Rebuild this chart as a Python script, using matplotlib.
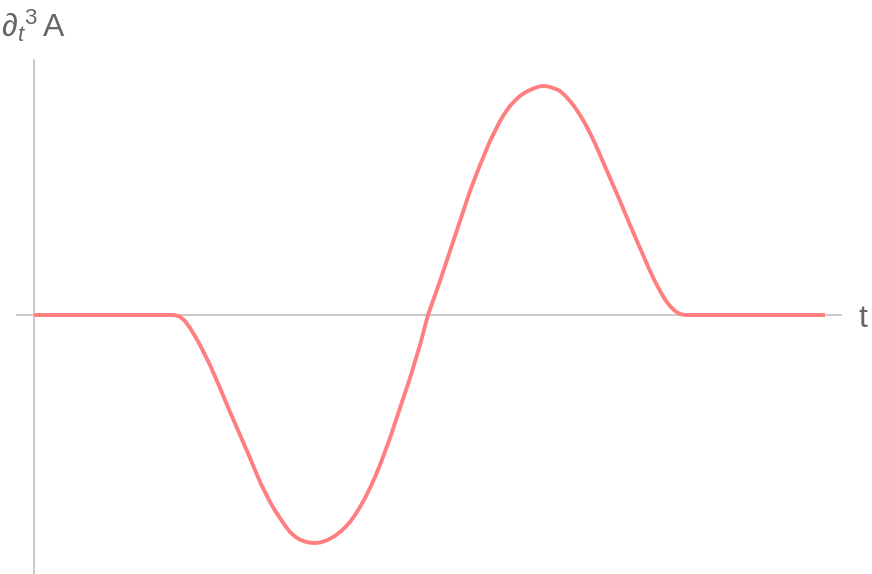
import matplotlib.pyplot as plt
import numpy as np

plt.rcParams['mathtext.fontset'] = 'custom'
plt.rcParams['mathtext.rm'] = 'Liberation Sans'
plt.rcParams['mathtext.it'] = 'Liberation Sans:italic'
plt.rcParams['font.family'] = ['Liberation Sans', 'DejaVu Sans']

# third time derivative of A
t = [0.00, 1.36, 1.41, 1.46, 1.51, 1.56, 1.61, 1.66, 1.76, 1.86,
     1.96, 2.06, 2.16, 2.26, 2.36, 2.41, 2.46, 2.51, 2.56, 2.61,
     2.66, 2.71, 2.76, 2.81, 2.86, 2.91, 2.96, 3.01, 3.06, 3.11,
     3.16, 3.21, 3.26, 3.31, 3.36, 3.41, 3.46, 3.56, 3.66, 3.76,
     3.86, 3.94, 4.06, 4.16, 4.26, 4.36, 4.46, 4.51, 4.56, 4.61,
     4.66, 4.71, 4.76, 4.81, 4.86, 4.91, 4.96, 5.01, 5.06, 5.09,
     5.13, 5.16, 5.21, 5.26, 5.31, 5.36, 5.41, 5.46, 5.51, 5.56,
     5.61, 5.66, 5.76, 5.86, 5.96, 6.06, 6.16, 6.21, 6.26, 6.31,
     6.36, 6.41, 6.46, 6.51, 7.91]
d3A = [0.00, 0.00, -0.002, -0.017, -0.06, -0.13, -0.21, -0.30, -0.50, -0.73,
       -0.97, -1.20, -1.43, -1.67, -1.87, -1.955, -2.03, -2.105, -2.17, -2.215,
       -2.247, -2.266, -2.277, -2.28, -2.275, -2.26, -2.238, -2.208, -2.17, -2.125,
       -2.07, -2.00, -1.92, -1.83, -1.73, -1.62, -1.50, -1.23, -0.93, -0.63,
       -0.30, 0.00, 0.34, 0.64, 0.94, 1.24, 1.50, 1.62, 1.74, 1.84,
       1.94, 2.02, 2.09, 2.145, 2.19, 2.225, 2.25, 2.272, 2.287, 2.29,
       2.287, 2.28, 2.263, 2.24, 2.195, 2.14, 2.075, 2.00, 1.915, 1.82,
       1.715, 1.60, 1.37, 1.14, 0.90, 0.67, 0.44, 0.335, 0.24, 0.155,
       0.09, 0.04, 0.01, 0.00, 0.00]

fig = plt.figure(figsize=(8.72, 5.74), dpi=100)
ax = fig.add_axes([0, 0, 1, 1])
ax.plot(t, d3A, color='#ff7f7f', lw=2.8, solid_capstyle='butt',
        solid_joinstyle='round', zorder=3)

ax.set_xlim(-0.34, 8.38)
ax.set_ylim(-2.59, 3.15)

axis_col = '#bbbbbb'
ax.spines['left'].set_position(('data', 0))
ax.spines['bottom'].set_position(('data', 0))
ax.spines['left'].set_bounds(-2.59, 2.55)
ax.spines['bottom'].set_bounds(-0.17, 8.07)
for s in ['left', 'bottom']:
    ax.spines[s].set_color(axis_col)
    ax.spines[s].set_linewidth(1.1)
ax.spines['top'].set_visible(False)
ax.spines['right'].set_visible(False)
ax.set_xticks([])
ax.set_yticks([])
ax.patch.set_alpha(0)

fig.text(1/872, 1-37/574, r'$\partial_t{}^3\,$A', fontsize=23, color='#666666',
         ha='left', va='baseline')
fig.text(858/872, 1-327/574, 't', fontsize=23, color='#666666',
         ha='left', va='baseline')

plt.savefig('out.png', dpi=100)
